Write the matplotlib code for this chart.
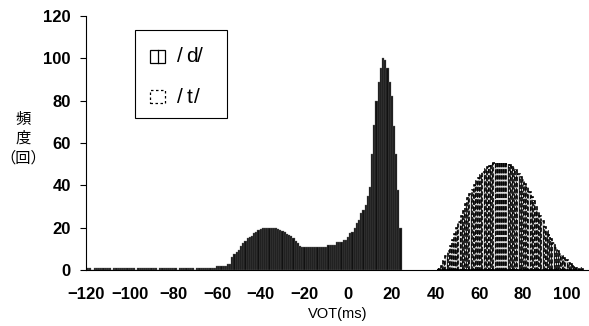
import numpy as np
import matplotlib.pyplot as plt
from matplotlib.patches import Rectangle

plt.rcParams['font.family'] = ['Liberation Sans', 'Noto Sans CJK JP', 'DejaVu Sans']

# /d/ : VOT -120 .. 24 ms, 1 ms bins
d_vot = np.arange(-120, 25)
d_freq = [1, 1, 1, 0, 1, 1, 1, 1, 1, 1, 1, 1, 0, 1, 1, 1, 1, 1, 1, 1,
          1, 1, 1, 0, 1, 1, 1, 1, 1, 1, 1, 1, 1, 0, 1, 1, 1, 1, 1, 1,
          1, 1, 0, 1, 1, 1, 1, 1, 1, 1, 0, 1, 1, 1, 1, 1, 1, 1, 1, 1,
          2, 2, 2, 2, 2, 3, 3, 6, 7.5, 8.5, 9.5, 11.5, 12.5, 13.5, 15, 15.5, 16.2, 17.3, 18, 18.7,
          19.2, 19.7, 20, 20, 20, 20, 20, 20, 19.5, 19, 18.5, 17.8, 17, 16.3, 15.8, 15, 13.5, 12.6, 11.5, 11,
          11, 11, 11, 11, 11, 11, 11, 11, 11, 11, 11, 12, 12, 12, 12, 13, 13, 13, 14, 14,
          15.7, 17.4, 18, 20, 22, 23.6, 26.8, 28.5, 30.7, 34.7, 39.4, 55, 68.6, 80, 89, 95.4, 100, 99, 95.5, 89,
          82, 68, 55, 38, 20]

# /t/ : VOT 41 .. 107 ms
t_vot = np.arange(41, 108)
t_freq = [0.5, 1, 2, 4, 6.5, 9, 11.5, 14, 17, 20, 22.5, 25.5, 28, 31, 34, 36, 38, 40, 42, 43.5,
          45, 46.3, 47.5, 48.5, 49.3, 50, 50.5, 50.5, 50.5, 50.5, 50.5, 50.5, 50, 49.5, 48.8, 48, 47, 45.5, 44, 42.5,
          40.5, 39, 37, 34.5, 32.5, 30, 27.5, 25.5, 23, 20.5, 18.5, 16.5, 14.5, 12.5, 10.5, 9, 7.5, 6.5, 5.5, 4.5,
          3.5, 2.7, 2, 1.5, 1, 0.7, 0.5]

x_ticks = list(range(-120, 101, 20))
y_ticks = list(range(0, 121, 20))

fig = plt.figure(figsize=(5.89, 3.26), dpi=100)
ax = fig.add_axes([0.146, 0.172, 0.853, 0.779])

ax.bar(d_vot, d_freq, width=1.0, color='#111111', edgecolor='#6e6e6e', linewidth=0.25)
ax.bar(t_vot, t_freq, width=1.0, facecolor='#d8d8d8', edgecolor='black',
       linewidth=1.2, linestyle=(0, (2.5, 1.2)))

ax.set_xlim(-120, 110)
ax.set_ylim(0, 120)
ax.set_xticks(x_ticks)
ax.set_yticks(y_ticks)
ax.tick_params(axis='x', length=0, pad=12)
ax.tick_params(axis='y', length=4, pad=7)
for lab in ax.get_xticklabels() + ax.get_yticklabels():
    lab.set_fontweight('bold')
    lab.set_fontsize(12)
ax.spines['top'].set_visible(False)
ax.spines['right'].set_visible(False)

ax.set_xlabel('VOT(ms)', fontsize=10.5, labelpad=4)
fig.text(0.039, 0.575, '頻\n度\n（回）', ha='center', va='center', fontsize=11,
         linespacing=1.2, family=['Noto Sans CJK JP'])

# legend box
fig.patches.append(Rectangle((135 / 589, 1 - 118 / 326), 92 / 589, 88 / 326,
                             transform=fig.transFigure, facecolor='white',
                             edgecolor='black', linewidth=0.8))
fig.patches.append(Rectangle((150 / 589, 1 - 63 / 326), 15 / 589, 13 / 326,
                             transform=fig.transFigure, facecolor='white',
                             edgecolor='black', linewidth=0.9))
fig.lines.append(plt.Line2D([157.5 / 589, 157.5 / 589], [1 - 63 / 326, 1 - 50 / 326],
                            transform=fig.transFigure, color='black', linewidth=0.9))
fig.patches.append(Rectangle((150 / 589, 1 - 103 / 326), 15 / 589, 13 / 326,
                             transform=fig.transFigure, facecolor='white',
                             edgecolor='black', linewidth=0.9, linestyle=(0, (2, 2))))
for row, lab, xl, xr in [(57, 'd', 186, 197), (97, 't', 187, 194)]:
    y = 1 - row / 326
    fig.text(177 / 589, y, '/', fontsize=15, va='center', ha='left')
    fig.text(xl / 589, y, lab, fontsize=15, va='center', ha='left')
    fig.text(xr / 589, y, '/', fontsize=15, va='center', ha='left')

fig.savefig('out.png', dpi=100)
